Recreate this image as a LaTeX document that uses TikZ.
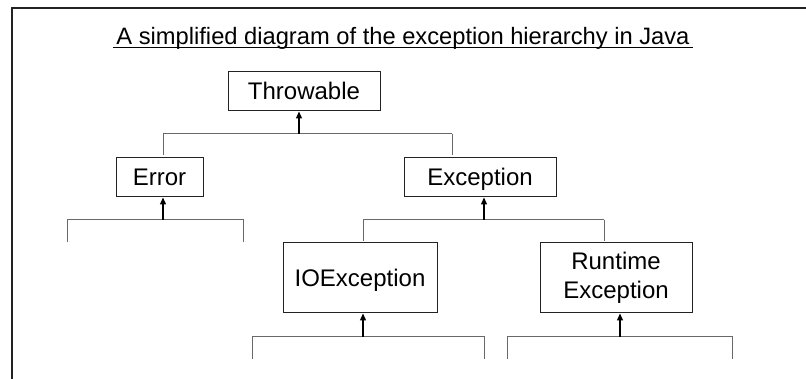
\documentclass[tikz,border=0pt]{standalone}
\usepackage{fontspec}
\setmainfont{Liberation Sans}
\usetikzlibrary{arrows.meta}
\definecolor{busgray}{RGB}{105,105,105}
\definecolor{boxline}{RGB}{35,35,35}
\newcommand{\fork}[2]
{   \draw[bus] (#1) ++(0,22) -- (#1) -- (#2) -- ++(0,22);
}

\begin{document}
\begin{tikzpicture}[x=1pt,y=-1pt,
    classbox/.style={draw=boxline, line width=1pt, inner sep=0pt, align=center,
        font=\fontsize{24}{29}\selectfont},
    oneline/.style={text height=17pt, text depth=0pt},
    bus/.style={busgray, line width=1pt},
    uparrow/.style={black, line width=1.3pt, -{Triangle[length=7pt,width=6pt]}}]
          \useasboundingbox (0,0) rectangle (806,379);
          \draw[boxline, line width=1.5pt] (806,8) -- (12,8) -- (12,379);
          \node[anchor=base, font=\fontsize{23.7}{28}\selectfont] (title) at (403,45)
              {A simplified diagram of the exception hierarchy in Java};
          \draw[line width=1.2pt] ([yshift=-2.5pt]title.base west) -- ([yshift=-2.5pt]title.base east);
          \node[classbox, oneline, minimum width=152pt, minimum height=39pt] (throwable) at (304,91.5) {Throwable};
          \node[classbox, oneline, minimum width=87pt, minimum height=39pt] (error) at (159.5,177.5) {Error};
          \node[classbox, oneline, minimum width=152pt, minimum height=39pt] (exception) at (480,177.5) {Exception};
          \node[classbox, oneline, minimum width=154pt, minimum height=70pt] (ioexc) at (360,278) {IOException};
          \node[classbox, minimum width=152pt, minimum height=70pt] (runtime) at (616,278) {Runtime\\Exception};
          % Throwable
          \coordinate (tl) at (163,134);
          \coordinate (tr) at (452,134);
          \coordinate (tm) at (299,134);
          \draw[bus,shorten >=2.5pt] (tl) -- (error.north -| tl);
          \draw[bus,shorten >=2.5pt] (tr) -- (exception.north -| tr);
          \draw[bus] (tl) -- (tr);
          \draw[uparrow] (tm) -- (throwable.south -| tm);
          % Error
          \coordinate (el) at (67,220);
          \coordinate (er) at (243,220);
          \coordinate (em) at (163,220);
          \fork{el}{er}
          \draw[uparrow] (em) -- (error.south -| em);
          % Exception
          \coordinate (xl) at (363,220);
          \coordinate (xr) at (604,220);
          \coordinate (xm) at (484,220);
          \draw[bus,shorten >=1pt] (xl) -- (ioexc.north -| xl);
          \draw[bus,shorten >=1pt] (xr) -- (runtime.north -| xr);
          \draw[bus] (xl) -- (xr);
          \draw[uparrow] (xm) -- (exception.south -| xm);
          % IOException
          \coordinate (il) at (252,337);
          \coordinate (ir) at (484,337);
          \coordinate (im) at (363,337);
          \fork{il}{ir}
          \draw[uparrow] (im) -- (ioexc.south -| im);
          % RuntimeException
          \coordinate (rl) at (507,337);
          \coordinate (rr) at (732,337);
          \coordinate (rm) at (620,337);
          \fork{rl}{rr}
          \draw[uparrow] (rm) -- (runtime.south -| rm);
        \end{tikzpicture}
\end{document}
